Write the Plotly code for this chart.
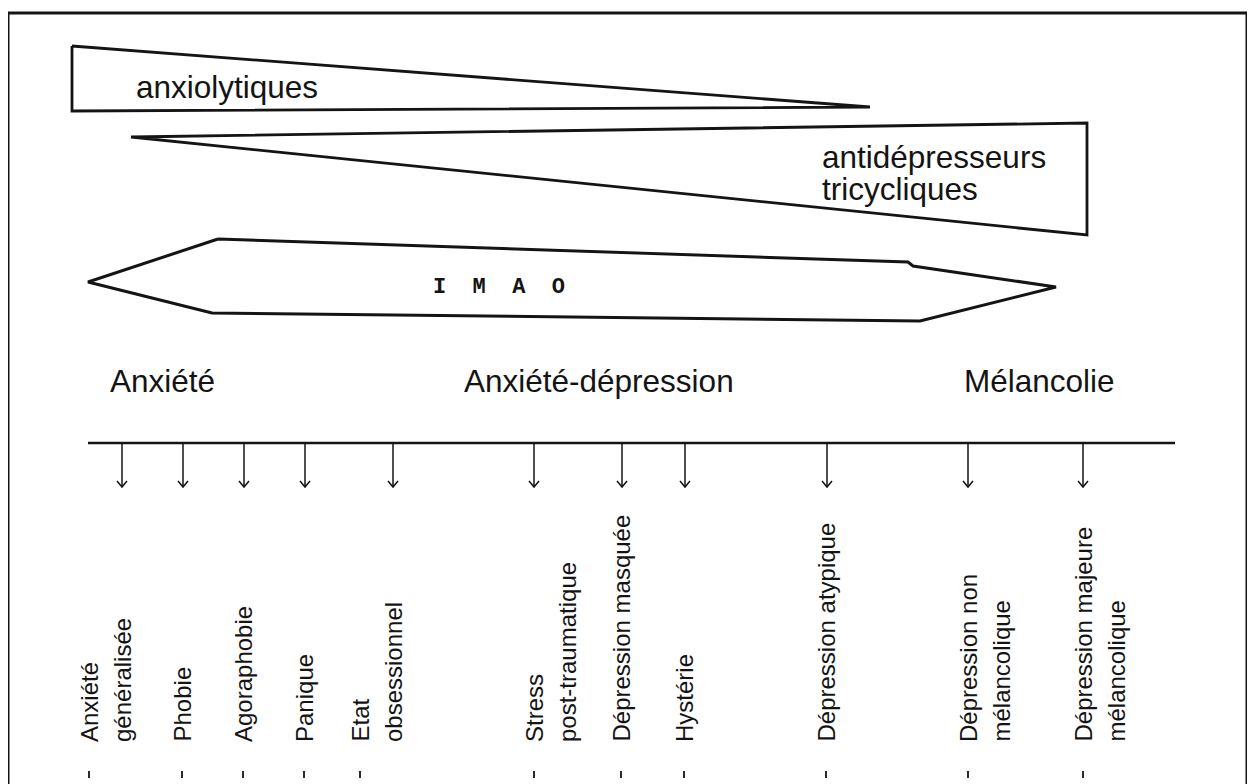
import plotly.graph_objects as go

# ---------------- data ----------------
groups = ["Anxiété", "Anxiété-dépression", "Mélancolie"]
group_x = [108, 462, 962]

disorders = [
    ["Anxiété", "généralisée"],
    ["Phobie"],
    ["Agoraphobie"],
    ["Panique"],
    ["Etat", "obsessionnel"],
    ["Stress", "post-traumatique"],
    ["Dépression masquée"],
    ["Hystérie"],
    ["Dépression atypique"],
    ["Dépression non", "mélancolique"],
    ["Dépression majeure", "mélancolique"],
]
disorder_pos = [122, 183, 244, 305, 393, 534, 622, 685, 827, 968, 1083]
arrow_line_index = [1, 0, 0, 0, 1, 0, 0, 0, 0, 0, 0]  # which text line sits on the arrow

drugs = ["anxiolytiques", "antidépresseurs\ntricycliques", "IMAO"]
anxio_x = [72, 870, 72, 72]
anxio_y = [46, 107, 111, 46]
tricy_x = [131, 1087, 1087, 131]
tricy_y = [137, 123, 235, 137]
imao_x = [218, 908, 913, 1056, 920, 212, 88, 218]
imao_y = [239, 262, 266, 287, 321, 313, 282, 239]

axis_start, axis_end = 88, 1175

# ---------------- figure ----------------
INK = "#141414"
PAGE_W, PAGE_H = 1255, 784
BODY_MARGIN = 8            # default page margin around the plot div
W, H = PAGE_W - BODY_MARGIN, PAGE_H - BODY_MARGIN
AXIS_Y = 443
ARROW_END = 487
LABEL_BOTTOM = 744
LINE_GAP = 33

fig = go.Figure()

def add_line(xs, ys, width=2.6, color=INK):
    fig.add_trace(go.Scatter(x=xs, y=ys, mode="lines",
                             line=dict(color=color, width=width),
                             hoverinfo="skip", showlegend=False))

# frame
add_line([8, 8, 1247, 1247], [790, 13, 13, 790], width=3)

# drug bands
add_line(anxio_x, anxio_y, width=2.8)
add_line(tricy_x, tricy_y, width=2.8)
add_line(imao_x, imao_y, width=3)

# continuum axis
add_line([axis_start, axis_end], [AXIS_Y, AXIS_Y], width=2.4)

# arrows
for px in disorder_pos:
    add_line([px, px], [AXIS_Y, ARROW_END], width=1.5)
    add_line([px - 5, px, px + 5], [ARROW_END - 6, ARROW_END, ARROW_END - 6], width=1.5)

annotations = []
txtfont = "Liberation Sans, Arial, sans-serif"

# drug labels
annotations.append(dict(x=134, y=99, text="anxiolytiques", xanchor="left", yanchor="bottom",
                        font=dict(family=txtfont, size=31.5, color=INK), yshift=-8))
for i, line in enumerate(drugs[1].split("\n")):
    annotations.append(dict(x=820, y=169 + 32 * i, text=line, xanchor="left", yanchor="bottom",
                            font=dict(family=txtfont, size=31.5, color=INK), yshift=-8))
annotations.append(dict(x=499, y=287, text="<b>I  M  A  O</b>", xanchor="center", yanchor="middle",
                        font=dict(family="Liberation Mono, Courier New, monospace", size=22, color=INK)))

# group headings
for g, gx in zip(groups, group_x):
    annotations.append(dict(x=gx, y=393, text=g, xanchor="left", yanchor="bottom",
                            font=dict(family=txtfont, size=31.5, color=INK), yshift=-8))

# disorder labels (rotated) + small ticks at bottom
for lines, px, k in zip(disorders, disorder_pos, arrow_line_index):
    for j, line in enumerate(lines):
        lx = px + (j - k) * LINE_GAP - (1 if len(lines) == 1 else 0)
        annotations.append(dict(x=lx, y=LABEL_BOTTOM, text=line, textangle=-90,
                                xanchor="center", yanchor="bottom",
                                font=dict(family=txtfont, size=24, color=INK)))
    tx = px - k * LINE_GAP - (1 if len(lines) == 1 else 0)
    add_line([tx, tx], [771, 778], width=1.8)

fig.update_layout(
    width=W, height=H,
    margin=dict(l=0, r=0, t=0, b=0),
    paper_bgcolor="white", plot_bgcolor="white",
    xaxis=dict(range=[BODY_MARGIN, PAGE_W], visible=False, fixedrange=True),
    yaxis=dict(range=[PAGE_H, BODY_MARGIN], visible=False, fixedrange=True),
    annotations=[dict(a, showarrow=False, xref="x", yref="y") for a in annotations],
)

fig.write_html("out.html")
